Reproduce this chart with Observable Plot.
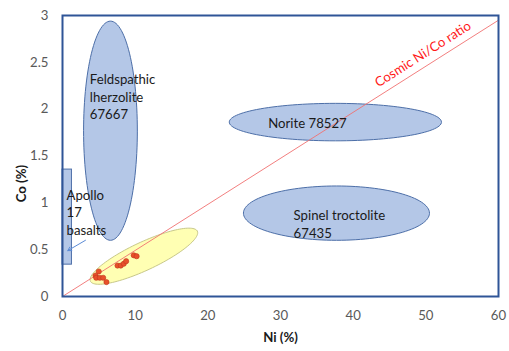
<!DOCTYPE html>
<html><head><meta charset="utf-8">
<script src="https://cdn.jsdelivr.net/npm/d3@7"></script>
<script src="https://cdn.jsdelivr.net/npm/@observablehq/plot@0.6"></script>
<style>html,body{margin:0;padding:0;background:#fff;overflow:hidden}</style>
</head><body><div id="chart"></div>
<script>
// ---- data ----
const xTicks = [0, 10, 20, 30, 40, 50, 60];
const yTicks = [0, 0.5, 1, 1.5, 2, 2.5, 3];

// measured samples (Ni %, Co %)
const niPct = [4.99, 4.54, 4.64, 5.13, 5.6, 6.05, 7.57, 8.02, 8.43, 8.76, 9.8, 10.2];
const coPct = [0.267, 0.224, 0.20, 0.20, 0.20, 0.154, 0.33, 0.33, 0.35, 0.377, 0.44, 0.43];

// reference fields (axis-aligned ellipses): centre and semi-axes in data units
const zoneNames = ["Feldspathic lherzolite 67667", "Norite 78527", "Spinel troctolite 67435"];
const zoneCx = [6.6, 37.55, 37.7];
const zoneCy = [1.77, 1.862, 0.89];
const zoneRx = [3.7, 14.6, 12.8];
const zoneRy = [1.17, 0.2, 0.29];

// tilted field around the samples: centre, half major and half minor vectors
const sampleZoneCenter = [11.2, 0.43];
const sampleZoneMajor = [7.36, 0.267];
const sampleZoneMinor = [0.82, -0.136];

// Apollo 17 basalts range
const apolloNi = [0, 1.3];
const apolloCo = [0.34, 1.355];

// cosmic Ni/Co ratio line
const cosmicNi = [0, 60];
const cosmicCo = [0, 2.95];

// annotations
const labelText = ["Feldspathic\nlherzolite\n67667", "Apollo\n17\nbasalts", "Norite 78527", "Spinel troctolite\n67435"];
const labelNi = [3.76, 0.55, 28.3, 31.8];
const labelCo = [2.398, 1.168, 1.933, 0.947];
const cosmicLabel = ["Cosmic Ni/Co ratio"];
const cosmicLabelNi = [49.6];
const cosmicLabelCo = [2.586];
const arrowFrom = [3.16, 0.6];
const arrowTo = [0.73, 0.49];
const xTitle = ["Ni (%)"];
const yTitle = ["Co (%)"];
const yTitlePos = [-5.64, 1.206];

// ---- build tables ----
function ellipse(id, c, a, b, n = 120) {
  const pts = [];
  for (let i = 0; i < n; i++) {
    const t = (2 * Math.PI * i) / n;
    pts.push({id, x: c[0] + Math.cos(t) * a[0] + Math.sin(t) * b[0],
                  y: c[1] + Math.cos(t) * a[1] + Math.sin(t) * b[1]});
  }
  return pts;
}
const zonePts = zoneNames.flatMap((nm, i) =>
  ellipse(nm, [zoneCx[i], zoneCy[i]], [zoneRx[i], 0], [0, zoneRy[i]]));
const samplePts = ellipse("samples", sampleZoneCenter, sampleZoneMajor, sampleZoneMinor);
const samples = niPct.map((x, i) => ({x, y: coPct[i]}));
const cosmic = cosmicNi.map((x, i) => ({x, y: cosmicCo[i]}));
const labels = labelText.map((t, i) => ({t, x: labelNi[i], y: labelCo[i]}));
const FONT = 13.2;

const chart = Plot.plot({
  width: 509, height: 351,
  marginLeft: 62, marginRight: 11, marginTop: 15, marginBottom: 55,
  style: {fontFamily: "Lato", fontSize: FONT + "px", color: "#595959", background: "#fff"},
  x: {domain: [0, 60], ticks: xTicks, tickSize: 0, tickPadding: 14, label: null, tickFormat: d => String(d)},
  y: {domain: [0, 3], ticks: yTicks, tickSize: 0, tickPadding: 14, label: null, tickFormat: d => String(d)},
  marks: [
    Plot.line(samplePts, {x: "x", y: "y", curve: "linear-closed", fill: "#FFFFB3", stroke: "#C8C88A", strokeWidth: 1}),
    Plot.line(zonePts, {x: "x", y: "y", z: "id", curve: "linear-closed", fill: "#B4C7E7", stroke: "#4D6FA8", strokeWidth: 1}),
    Plot.rect([0], {x1: () => apolloNi[0], x2: () => apolloNi[1], y1: () => apolloCo[0], y2: () => apolloCo[1],
      fill: "#B4C7E7", stroke: "#4D6FA8", strokeWidth: 1}),
    Plot.line(cosmic, {x: "x", y: "y", stroke: "#F07070", strokeWidth: 0.9}),
    Plot.arrow([0], {x1: () => arrowFrom[0], y1: () => arrowFrom[1], x2: () => arrowTo[0], y2: () => arrowTo[1],
      stroke: "#5B8BD6", strokeWidth: 1, headLength: 6, bend: 0}),
    Plot.dot(samples, {x: "x", y: "y", r: 2.6, fill: "#E8502A", stroke: "#C0391E", strokeWidth: 0.6}),
    Plot.text(labels, {x: "x", y: "y", text: "t", textAnchor: "start", lineAnchor: "top",
      lineHeight: 1.33, fill: "#1a1a1a", fontSize: FONT}),
    Plot.text(cosmicLabel, {x: () => cosmicLabelNi[0], y: () => cosmicLabelCo[0], text: d => d,
      rotate: -32.4, fill: "#FF1A1A", fontSize: FONT}),
    Plot.text(xTitle, {frameAnchor: "bottom", dy: 45, text: d => d, fontWeight: "bold", fill: "#1a1a1a", fontSize: FONT}),
    Plot.text(yTitle, {x: () => yTitlePos[0], y: () => yTitlePos[1], rotate: -90, text: d => d,
      fontWeight: "bold", fill: "#1a1a1a", fontSize: FONT}),
    Plot.frame({stroke: "#2F5597", strokeWidth: 2})
  ]
});
document.getElementById("chart").appendChild(chart);
</script>
</body></html>
